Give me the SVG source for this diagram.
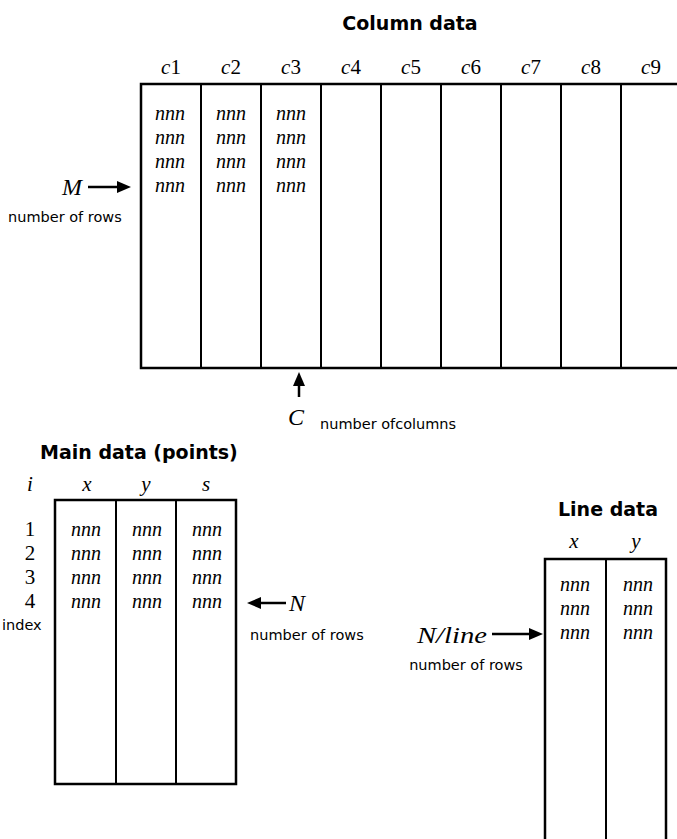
<svg xmlns="http://www.w3.org/2000/svg" width="677" height="839" viewBox="0 0 677 839">
  <style>
    .title { font-family: "DejaVu Sans", "Liberation Sans", sans-serif; font-size: 19px; font-weight: bold; fill: #000; }
    .note { font-family: "DejaVu Sans", "Liberation Sans", sans-serif; font-size: 14.5px; fill: #000; }
    .math { font-family: "Liberation Serif", "Times New Roman", serif; font-size: 21px; fill: #000; }
    .big { font-family: "Liberation Serif", "Times New Roman", serif; font-size: 24px; font-style: italic; fill: #000; }
    .val { font-family: "Liberation Serif", "Times New Roman", serif; font-size: 20px; font-style: italic; fill: #000; text-anchor: middle; }
    .it { font-style: italic; }
    .frame { fill: none; stroke: #000; stroke-width: 2.5; }
    .sep { stroke: #000; stroke-width: 2; }
    .arrow { stroke: #000; stroke-width: 2.5; fill: none; marker-end: url(#head); }
    .mid { text-anchor: middle; }
  </style>
  <defs>
    <marker id="head" viewBox="0 0 14 12" refX="4" refY="6" markerWidth="14" markerHeight="12" markerUnits="userSpaceOnUse" orient="auto">
      <path d="M0,0 L14,6 L0,12 z" fill="#000"/>
    </marker>
  </defs>
  <rect width="677" height="839" fill="#fff"/>

  <!-- Column data table -->
  <g id="column-data">
    <text class="title mid" x="410" y="30">Column data</text>
    <g class="math mid">
      <text x="171" y="74"><tspan class="it">c</tspan>1</text>
      <text x="231" y="74"><tspan class="it">c</tspan>2</text>
      <text x="291" y="74"><tspan class="it">c</tspan>3</text>
      <text x="351" y="74"><tspan class="it">c</tspan>4</text>
      <text x="411" y="74"><tspan class="it">c</tspan>5</text>
      <text x="471" y="74"><tspan class="it">c</tspan>6</text>
      <text x="531" y="74"><tspan class="it">c</tspan>7</text>
      <text x="591" y="74"><tspan class="it">c</tspan>8</text>
      <text x="651" y="74"><tspan class="it">c</tspan>9</text>
    </g>
    <rect class="frame" x="141" y="84" width="540" height="284"/>
    <g class="sep">
      <line x1="201" y1="84" x2="201" y2="368"/>
      <line x1="261" y1="84" x2="261" y2="368"/>
      <line x1="321" y1="84" x2="321" y2="368"/>
      <line x1="381" y1="84" x2="381" y2="368"/>
      <line x1="441" y1="84" x2="441" y2="368"/>
      <line x1="501" y1="84" x2="501" y2="368"/>
      <line x1="561" y1="84" x2="561" y2="368"/>
      <line x1="621" y1="84" x2="621" y2="368"/>
    </g>
    <g class="val">
      <text x="170" y="120">nnn</text><text x="231" y="120">nnn</text><text x="291" y="120">nnn</text>
      <text x="170" y="144">nnn</text><text x="231" y="144">nnn</text><text x="291" y="144">nnn</text>
      <text x="170" y="168">nnn</text><text x="231" y="168">nnn</text><text x="291" y="168">nnn</text>
      <text x="170" y="192">nnn</text><text x="231" y="192">nnn</text><text x="291" y="192">nnn</text>
    </g>
  </g>

  <!-- Labels for the column table -->
  <g id="column-labels">
    <text class="big" x="62" y="195">M</text>
    <text class="note" x="8" y="222">number of rows</text>
    <text class="big" x="288" y="425">C</text>
    <text class="note" x="320" y="429">number ofcolumns</text>
  </g>

  <!-- Main data table -->
  <g id="main-data">
    <text class="title" x="40" y="459">Main data (points)</text>
    <g class="math it mid">
      <text x="30" y="491">i</text>
      <text x="87" y="491">x</text>
      <text x="146" y="491">y</text>
      <text x="206" y="491">s</text>
    </g>
    <rect class="frame" x="55" y="500" width="181" height="284"/>
    <g class="sep">
      <line x1="116" y1="500" x2="116" y2="784"/>
      <line x1="176" y1="500" x2="176" y2="784"/>
    </g>
    <g class="math mid">
      <text x="30" y="536">1</text>
      <text x="30" y="560">2</text>
      <text x="30" y="584">3</text>
      <text x="30" y="608">4</text>
    </g>
    <g class="val">
      <text x="86" y="536">nnn</text><text x="147" y="536">nnn</text><text x="207" y="536">nnn</text>
      <text x="86" y="560">nnn</text><text x="147" y="560">nnn</text><text x="207" y="560">nnn</text>
      <text x="86" y="584">nnn</text><text x="147" y="584">nnn</text><text x="207" y="584">nnn</text>
      <text x="86" y="608">nnn</text><text x="147" y="608">nnn</text><text x="207" y="608">nnn</text>
    </g>
    <text class="note" x="2" y="630">index</text>
  </g>

  <!-- Labels for the main table -->
  <g id="main-labels">
    <text class="big" x="289" y="611">N</text>
    <text class="note" x="250" y="640">number of rows</text>
  </g>

  <!-- Line data table -->
  <g id="line-data">
    <text class="title mid" x="608" y="516">Line data</text>
    <g class="math it mid">
      <text x="574" y="548">x</text>
      <text x="636" y="548">y</text>
    </g>
    <rect class="frame" x="545" y="559" width="121" height="300"/>
    <line class="sep" x1="606" y1="559" x2="606" y2="859"/>
    <g class="val">
      <text x="575" y="591">nnn</text><text x="638" y="591">nnn</text>
      <text x="575" y="615">nnn</text><text x="638" y="615">nnn</text>
      <text x="575" y="639">nnn</text><text x="638" y="639">nnn</text>
    </g>
  </g>

  <!-- Labels for the line table -->
  <g id="line-labels">
    <text class="big" x="417" y="643" textLength="70" lengthAdjust="spacingAndGlyphs">N/line</text>
    <text class="note mid" x="466" y="670">number of rows</text>
  </g>

  <!-- Pointer arrows -->
  <g id="connectors">
    <line class="arrow" x1="88" y1="187" x2="121" y2="187"/>
    <line class="arrow" x1="299" y1="397" x2="299" y2="382"/>
    <line class="arrow" x1="286" y1="603" x2="257" y2="603"/>
    <line class="arrow" x1="492" y1="634" x2="533" y2="634"/>
  </g>
</svg>
